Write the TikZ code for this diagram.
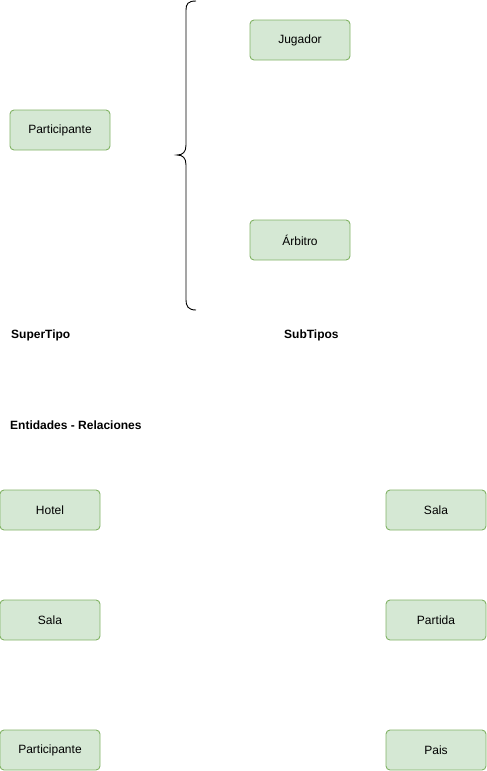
\documentclass[tikz,border=0pt]{standalone}
\usepackage{fontspec}
\setmainfont{Liberation Sans}
\begin{document}
\begin{tikzpicture}[x=1pt,y=-1pt,
  ent/.style={draw=entstroke, fill=entfill, line width=0.9pt, rounded corners=4pt,
    minimum width=100pt, minimum height=40pt, inner sep=0pt,
    font=\fontsize{12}{14}\selectfont, text=black},
  heading/.style={anchor=west, inner sep=0pt, font=\fontsize{12}{14}\selectfont\bfseries}]
\definecolor{entfill}{HTML}{D5E8D4}
\definecolor{entstroke}{HTML}{82B366}
\useasboundingbox (0,0) rectangle (487,771);

% supertype / subtypes
\node[ent] (part1) at (60,130) {Participante};
\node[ent] (jug) at (300,40) {Jugador};
\node[ent] (arb) at (300,240) {Árbitro};

% curly brace grouping the subtypes
\coordinate (btop) at (196,1);
\coordinate (btip) at (177,155);
\coordinate (bbot) at (196,310);
\draw[line width=0.9pt] (btop) .. controls (188,1) and (186,4) .. (186,10)
  -- (186,145) .. controls (186,152) and (183,155) .. (btip)
  .. controls (183,155) and (186,158) .. (186,165)
  -- (186,300) .. controls (186,306) and (188,310) .. (bbot);

\node[heading] (lsuper) at (11,335) {SuperTipo};
\node[heading] (lsub) at (284,335) {SubTipos};
\node[heading] (lent) at (10,425) {Entidades - Relaciones};

% entities
\node[ent] (hotel) at (50,510) {Hotel};
\node[ent] (sala1) at (50,620) {Sala};
\node[ent] (part2) at (50,750) {Participante};
\node[ent] (sala2) at (436,510) {Sala};
\node[ent] (partida) at (436,620) {Partida};
\node[ent] (pais) at (436,750) {Pais};
\end{tikzpicture}
\end{document}
